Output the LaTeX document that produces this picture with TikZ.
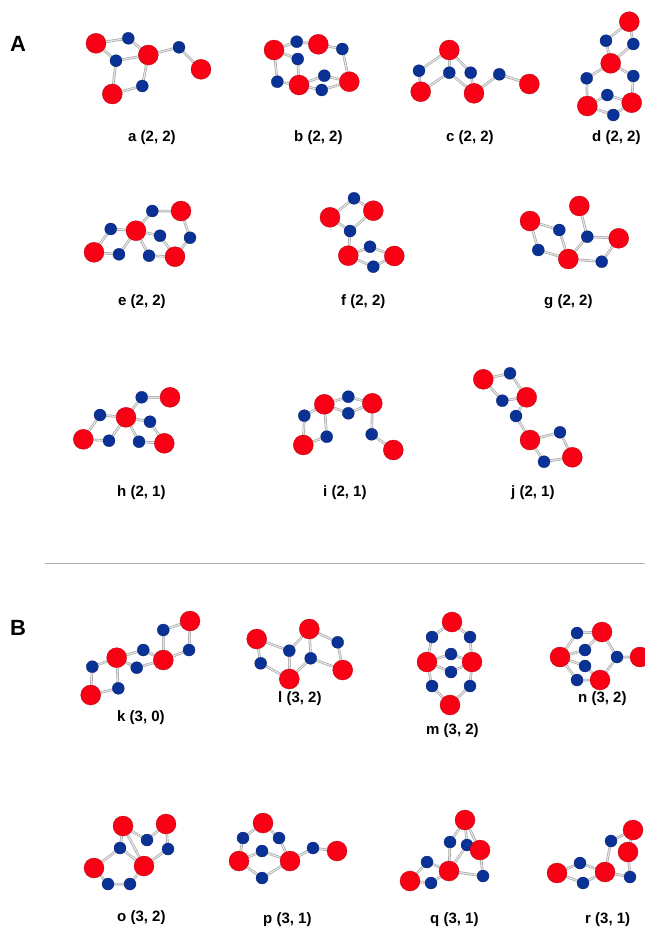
\documentclass[tikz,border=0pt]{standalone}
\usepackage{fontspec}
\setmainfont{Liberation Sans}
\usetikzlibrary{backgrounds}
\definecolor{rnode}{RGB}{250,0,20}
\definecolor{bnode}{RGB}{10,50,150}
\tikzset{
  rn/.style={circle,fill=rnode,draw=rnode!70!black,line width=0.3pt,minimum size=20pt,inner sep=0pt},
  bn/.style={circle,fill=bnode,draw=bnode!70!black,line width=0.3pt,minimum size=12pt,inner sep=0pt},
  ed/.style={draw=gray!75,double=gray!20,line width=0.6pt,double distance=1.3pt},
  lab/.style={font=\bfseries\fontsize{15}{17}\selectfont,anchor=west,inner sep=0pt},
  big/.style={font=\bfseries\fontsize{22}{24}\selectfont}
}
\begin{document}
\begin{tikzpicture}[x=1pt,y=-1pt]
\useasboundingbox (0,0) rectangle (645,932);
\node[big] (A) at (18,44) {A};
\node[big] (B) at (18,628) {B};
\coordinate (s1) at (45,563);
\coordinate (s2) at (645,563);
\draw[gray!60,line width=0.6pt] (s1) -- (s2);
% graph a
\node[rn] (a1) at (96,43.3) {};
\node[bn] (a2) at (128.3,38.3) {};
\node[bn] (a3) at (116,60.7) {};
\node[rn] (a4) at (148.3,55) {};
\node[bn] (a5) at (179,47.3) {};
\node[rn] (a6) at (201,69.3) {};
\node[rn] (a7) at (112.3,94) {};
\node[bn] (a8) at (142.3,86) {};
% graph b
\node[rn] (b1) at (274,50) {};
\node[bn] (b2) at (296.7,41.7) {};
\node[rn] (b3) at (318.3,44.3) {};
\node[bn] (b4) at (342.3,49) {};
\node[bn] (b5) at (297.7,59) {};
\node[bn] (b6) at (277.3,81.7) {};
\node[rn] (b7) at (299,85) {};
\node[bn] (b8) at (324.3,75.7) {};
\node[bn] (b9) at (321.7,90) {};
\node[rn] (b10) at (349.3,81.7) {};
% graph c
\node[rn] (c1) at (449.3,50) {};
\node[bn] (c2) at (419,70.7) {};
\node[bn] (c3) at (449.3,72.7) {};
\node[bn] (c4) at (470.7,72.7) {};
\node[rn] (c5) at (420.7,91.7) {};
\node[rn] (c6) at (474,93.3) {};
\node[bn] (c7) at (499.3,74.3) {};
\node[rn] (c8) at (529.3,84) {};
% graph d
\node[rn] (d1) at (629.3,21.7) {};
\node[bn] (d2) at (606,40.7) {};
\node[bn] (d3) at (633.3,44) {};
\node[rn] (d4) at (610.7,63.3) {};
\node[bn] (d5) at (586.7,78.3) {};
\node[bn] (d6) at (633.3,76) {};
\node[bn] (d7) at (607.3,95) {};
\node[rn] (d8) at (587.3,106) {};
\node[rn] (d9) at (631.7,102.7) {};
\node[bn] (d10) at (613.3,115) {};
% graph e
\node[rn] (e1) at (94,252.3) {};
\node[bn] (e2) at (110.7,229) {};
\node[bn] (e3) at (119,254.3) {};
\node[rn] (e4) at (136,230.7) {};
\node[bn] (e5) at (152.3,211) {};
\node[rn] (e6) at (181,211) {};
\node[bn] (e7) at (190,237.7) {};
\node[bn] (e8) at (160,235.7) {};
\node[bn] (e9) at (149,255.7) {};
\node[rn] (e10) at (175,256.7) {};
% graph f
\node[bn] (f1) at (354,198.3) {};
\node[rn] (f2) at (330,217.3) {};
\node[rn] (f3) at (373.3,210.7) {};
\node[bn] (f4) at (350,231) {};
\node[rn] (f5) at (348.3,255.7) {};
\node[bn] (f6) at (370,246.7) {};
\node[rn] (f7) at (394.3,256) {};
\node[bn] (f8) at (373.3,266.7) {};
% graph g
\node[rn] (g1) at (530,221) {};
\node[bn] (g2) at (559.3,230) {};
\node[bn] (g3) at (538.3,250) {};
\node[rn] (g4) at (568.3,259) {};
\node[rn] (g5) at (579.3,206) {};
\node[bn] (g6) at (587.3,236.7) {};
\node[rn] (g7) at (618.7,238.3) {};
\node[bn] (g8) at (601.7,261.7) {};
% graph h
\node[rn] (h1) at (83.3,439.3) {};
\node[bn] (h2) at (100,415) {};
\node[bn] (h3) at (109,440.7) {};
\node[rn] (h4) at (126,417.3) {};
\node[bn] (h5) at (141.7,397.3) {};
\node[rn] (h6) at (170,397.3) {};
\node[bn] (h7) at (150,421.7) {};
\node[bn] (h8) at (139,441.7) {};
\node[rn] (h9) at (164.3,443.3) {};
% graph i
\node[bn] (i1) at (304.3,415.7) {};
\node[rn] (i2) at (324.3,404.3) {};
\node[bn] (i3) at (348.3,396.7) {};
\node[bn] (i4) at (348.3,413.3) {};
\node[rn] (i5) at (372.3,403.3) {};
\node[bn] (i6) at (326.7,436.7) {};
\node[rn] (i7) at (303.3,445) {};
\node[bn] (i8) at (371.7,434.3) {};
\node[rn] (i9) at (393.3,450) {};
% graph j
\node[rn] (j1) at (483.3,379.3) {};
\node[bn] (j2) at (510,373.3) {};
\node[bn] (j3) at (502.3,400.7) {};
\node[rn] (j4) at (526.7,397.3) {};
\node[bn] (j5) at (516,416) {};
\node[rn] (j6) at (530,440) {};
\node[bn] (j7) at (560,432.3) {};
\node[bn] (j8) at (544,461.7) {};
\node[rn] (j9) at (572.3,457.3) {};
% graph k
\node[rn] (k1) at (190,621) {};
\node[bn] (k2) at (163.3,630) {};
\node[bn] (k3) at (189,650) {};
\node[rn] (k4) at (163.3,660) {};
\node[bn] (k5) at (143.3,650) {};
\node[bn] (k6) at (136.7,667.7) {};
\node[rn] (k7) at (116.7,657.7) {};
\node[bn] (k8) at (92.3,666.7) {};
\node[bn] (k9) at (118.3,688.3) {};
\node[rn] (k10) at (90.7,695) {};
% graph l
\node[rn] (l1) at (256.7,639) {};
\node[bn] (l2) at (260.7,663.3) {};
\node[rn] (l3) at (289.3,679) {};
\node[bn] (l4) at (289.3,650.7) {};
\node[rn] (l5) at (309.3,629) {};
\node[bn] (l6) at (310.7,658.3) {};
\node[bn] (l7) at (337.7,642.3) {};
\node[rn] (l8) at (342.7,670) {};
% graph m
\node[rn] (m1) at (452,622) {};
\node[bn] (m2) at (432,637) {};
\node[bn] (m3) at (470,637) {};
\node[rn] (m4) at (427,662) {};
\node[bn] (m5) at (451,654) {};
\node[rn] (m6) at (472,662) {};
\node[bn] (m7) at (432,686) {};
\node[bn] (m8) at (451,672) {};
\node[bn] (m9) at (470,686) {};
\node[rn] (m10) at (450,705) {};
% graph n
\node[bn] (n1) at (577,633) {};
\node[rn] (n2) at (602,632) {};
\node[rn] (n3) at (560,657) {};
\node[bn] (n4) at (585,650) {};
\node[bn] (n5) at (585,666) {};
\node[bn] (n6) at (617,657) {};
\node[rn] (n7) at (640,657) {};
\node[rn] (n8) at (600,680) {};
\node[bn] (n9) at (577,680) {};
% graph o
\node[rn] (o1) at (123,826) {};
\node[rn] (o2) at (166,824) {};
\node[bn] (o3) at (147,840) {};
\node[bn] (o4) at (120,848) {};
\node[bn] (o5) at (168,849) {};
\node[rn] (o6) at (94,868) {};
\node[rn] (o7) at (144,866) {};
\node[bn] (o8) at (108,884) {};
\node[bn] (o9) at (130,884) {};
% graph p
\node[rn] (p1) at (263,823) {};
\node[bn] (p2) at (243,838) {};
\node[bn] (p3) at (279,838) {};
\node[rn] (p4) at (239,861) {};
\node[bn] (p5) at (262,851) {};
\node[rn] (p6) at (290,861) {};
\node[bn] (p7) at (262,878) {};
\node[bn] (p8) at (313,848) {};
\node[rn] (p9) at (337,851) {};
% graph q
\node[rn] (q1) at (465,820) {};
\node[bn] (q2) at (450,842) {};
\node[bn] (q3) at (467,845) {};
\node[rn] (q4) at (480,850) {};
\node[rn] (q5) at (449,871) {};
\node[bn] (q6) at (427,862) {};
\node[bn] (q7) at (431,883) {};
\node[bn] (q8) at (483,876) {};
\node[rn] (q9) at (410,881) {};
% graph r
\node[rn] (r1) at (633,830) {};
\node[rn] (r2) at (628,852) {};
\node[bn] (r3) at (611,841) {};
\node[rn] (r4) at (605,872) {};
\node[rn] (r5) at (557,873) {};
\node[bn] (r6) at (580,863) {};
\node[bn] (r7) at (583,883) {};
\node[bn] (r8) at (630,877) {};
\begin{pgfonlayer}{background}
\fill[white] (0,0) rectangle (645,932);
\draw[ed] (a1)--(a2) (a2)--(a4) (a1)--(a3) (a3)--(a4) (a3)--(a7) (a7)--(a8) (a8)--(a4) (a4)--(a5) (a5)--(a6);
\draw[ed] (b1)--(b2) (b2)--(b3) (b3)--(b4) (b4)--(b10) (b1)--(b5) (b5)--(b7) (b1)--(b6) (b6)--(b7) (b7)--(b8) (b8)--(b10) (b7)--(b9) (b9)--(b10);
\draw[ed] (c1)--(c2) (c1)--(c3) (c1)--(c4) (c2)--(c5) (c5)--(c3) (c3)--(c6) (c4)--(c6) (c6)--(c7) (c7)--(c8);
\draw[ed] (d1)--(d2) (d1)--(d3) (d2)--(d4) (d3)--(d4) (d4)--(d5) (d4)--(d6) (d5)--(d8) (d6)--(d9) (d8)--(d7) (d7)--(d9) (d8)--(d10) (d10)--(d9);
\draw[ed] (e1)--(e2) (e2)--(e4) (e1)--(e3) (e3)--(e4) (e4)--(e5) (e5)--(e6) (e6)--(e7) (e7)--(e10) (e4)--(e8) (e8)--(e10) (e4)--(e9) (e9)--(e10);
\draw[ed] (f2)--(f1) (f1)--(f3) (f2)--(f4) (f4)--(f3) (f4)--(f5) (f5)--(f6) (f6)--(f7) (f5)--(f8) (f8)--(f7);
\draw[ed] (g1)--(g2) (g2)--(g4) (g1)--(g3) (g3)--(g4) (g4)--(g6) (g6)--(g5) (g6)--(g7) (g7)--(g8) (g8)--(g4);
\draw[ed] (h1)--(h2) (h2)--(h4) (h1)--(h3) (h3)--(h4) (h4)--(h5) (h5)--(h6) (h4)--(h7) (h7)--(h9) (h4)--(h8) (h8)--(h9);
\draw[ed] (i2)--(i3) (i3)--(i5) (i2)--(i4) (i4)--(i5) (i2)--(i1) (i1)--(i7) (i7)--(i6) (i6)--(i2) (i5)--(i8) (i8)--(i9);
\draw[ed] (j1)--(j2) (j2)--(j4) (j1)--(j3) (j3)--(j4) (j4)--(j5) (j5)--(j6) (j6)--(j7) (j7)--(j9) (j6)--(j8) (j8)--(j9);
\draw[ed] (k1)--(k2) (k2)--(k4) (k1)--(k3) (k3)--(k4) (k4)--(k5) (k5)--(k7) (k4)--(k6) (k6)--(k7) (k7)--(k8) (k8)--(k10) (k7)--(k9) (k9)--(k10);
\draw[ed] (l1)--(l2) (l2)--(l3) (l1)--(l4) (l4)--(l3) (l4)--(l5) (l5)--(l6) (l6)--(l3) (l5)--(l7) (l7)--(l8) (l8)--(l6);
\draw[ed] (m1)--(m2) (m1)--(m3) (m2)--(m4) (m3)--(m6) (m4)--(m5) (m5)--(m6) (m4)--(m8) (m8)--(m6) (m4)--(m7) (m7)--(m10) (m6)--(m9) (m9)--(m10);
\draw[ed] (n1)--(n2) (n1)--(n3) (n3)--(n4) (n4)--(n2) (n3)--(n5) (n5)--(n8) (n2)--(n6) (n6)--(n8) (n6)--(n7) (n3)--(n9) (n9)--(n8);
\draw[ed] (o1)--(o3) (o3)--(o2) (o2)--(o5) (o5)--(o7) (o1)--(o4) (o4)--(o6) (o4)--(o7) (o6)--(o8) (o8)--(o9) (o9)--(o7) (o1)--(o7);
\draw[ed] (p1)--(p2) (p1)--(p3) (p2)--(p4) (p3)--(p6) (p4)--(p5) (p5)--(p6) (p4)--(p7) (p7)--(p6) (p6)--(p8) (p8)--(p9);
\draw[ed] (q1)--(q2) (q1)--(q3) (q1)--(q4) (q2)--(q5) (q3)--(q4) (q4)--(q8) (q8)--(q5) (q5)--(q6) (q6)--(q9) (q9)--(q7) (q7)--(q5) (q3)--(q5);
\draw[ed] (r1)--(r3) (r1)--(r2) (r3)--(r4) (r2)--(r8) (r8)--(r4) (r4)--(r6) (r6)--(r5) (r5)--(r7) (r7)--(r4);
\end{pgfonlayer}
% labels
\node[lab] (la) at (128,138) {a (2, 2)};
\node[lab] (lb) at (294,138) {b (2, 2)};
\node[lab] (lc) at (446,138) {c (2, 2)};
\node[lab] (ld) at (592,138) {d (2, 2)};
\node[lab] (le) at (118,302) {e (2, 2)};
\node[lab] (lf) at (341,302) {f (2, 2)};
\node[lab] (lg) at (544,302) {g (2, 2)};
\node[lab] (lh) at (117,493) {h (2, 1)};
\node[lab] (li) at (323,493) {i (2, 1)};
\node[lab] (lj) at (511,493) {j (2, 1)};
\node[lab] (lk) at (117,718) {k (3, 0)};
\node[lab] (ll) at (278,699) {l (3, 2)};
\node[lab] (lm) at (426,731) {m (3, 2)};
\node[lab] (ln) at (578,699) {n (3, 2)};
\node[lab] (lo) at (117,918) {o (3, 2)};
\node[lab] (lp) at (263,920) {p (3, 1)};
\node[lab] (lq) at (430,920) {q (3, 1)};
\node[lab] (lr) at (585,920) {r (3, 1)};
\end{tikzpicture}
\end{document}
